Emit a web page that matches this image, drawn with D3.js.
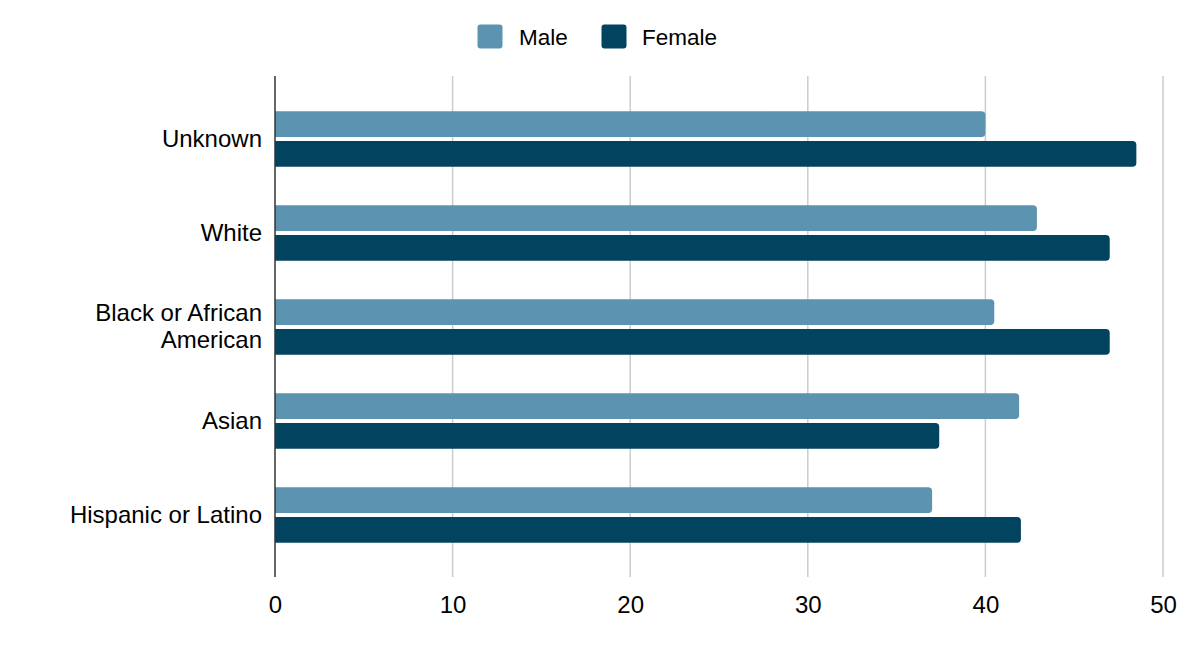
<!DOCTYPE html>
<html><head><meta charset="utf-8">
<script src="https://cdn.jsdelivr.net/npm/d3@7"></script>
<style>body{margin:0;background:#fff}svg{display:block}text{font-family:"Liberation Sans",Arial,sans-serif;fill:#000}</style>
</head><body><svg id="c" width="1200" height="655"></svg>
<script>
const categories = ["Unknown","White","Black or African American","Asian","Hispanic or Latino"];
const categoryLines = [["Unknown"],["White"],["Black or African","American"],["Asian"],["Hispanic or Latino"]];
const seriesNames = ["Male","Female"];
const maleValues = [40, 42.9, 40.5, 41.9, 37];
const femaleValues = [48.5, 47, 47, 37.4, 42];
const xTicks = [0,10,20,30,40,50];
const colors = ["#5b93b0","#02435f"];

(function(){
const svg = d3.select("#c");
const pLeft = 275, pRight = 1163, pTop = 92, pBottom = 562;
const x = d3.scaleLinear().domain([0,50]).range([pLeft,pRight]);
const y = d3.scaleBand().domain(categories).range([pTop,pBottom]).paddingInner(0.41).paddingOuter(0.205);
const y1 = d3.scaleBand().domain(seriesNames).range([0,y.bandwidth()]).paddingInner(0.14);

// grid
svg.append("g").selectAll("line").data(xTicks.slice(1)).join("line")
  .attr("x1",d=>x(d)).attr("x2",d=>x(d)).attr("y1",76).attr("y2",577)
  .attr("stroke","#cccccc").attr("stroke-width",1.5);

// bars
const data = categories.map((c,i)=>({c, vals:[maleValues[i],femaleValues[i]]}));
const g = svg.append("g");
data.forEach(d=>{
  d.vals.forEach((v,j)=>{
    const w = x(v)-x(0), h = y1.bandwidth(), r = 4;
    const x0 = x(0), y0 = y(d.c)+y1(seriesNames[j]);
    g.append("path")
      .attr("d",`M${x0},${y0}H${x0+w-r}Q${x0+w},${y0} ${x0+w},${y0+r}V${y0+h-r}Q${x0+w},${y0+h} ${x0+w-r},${y0+h}H${x0}Z`)
      .attr("fill",colors[j]);
  });
});

// zero axis
svg.append("line").attr("x1",x(0)).attr("x2",x(0)).attr("y1",76).attr("y2",577)
  .attr("stroke","#333").attr("stroke-width",1.5);

// x tick labels
const xa = d3.axisBottom(x).tickValues(xTicks).tickSize(0).tickPadding(0);
const ax = svg.append("g").attr("transform",`translate(0,${pBottom})`).call(xa);
ax.select(".domain").remove();
ax.selectAll("text").attr("font-size",24).attr("dy",null).attr("y",51).style("font-family","'Liberation Sans',Arial,sans-serif").attr("fill","#000");

// category labels
categories.forEach((c,i)=>{
  const lines = categoryLines[i];
  const cy = y(c)+y.bandwidth()/2;
  const t = svg.append("text").attr("text-anchor","end").attr("font-size",24);
  lines.forEach((l,k)=>{
    t.append("tspan").attr("x",262).attr("y",cy + (k-(lines.length-1)/2)*27.5 + 7.5).text(l);
  });
});

// legend
const legend = [{n:"Male",x:477.5,tx:519},{n:"Female",x:601.5,tx:642}];
legend.forEach((l,i)=>{
  svg.append("rect").attr("x",l.x).attr("y",24.5).attr("width",25).attr("height",24).attr("rx",3).attr("fill",colors[i]);
  svg.append("text").attr("x",l.tx).attr("y",44.5).attr("font-size",22.5).text(l.n);
});
})();
</script></body></html>
